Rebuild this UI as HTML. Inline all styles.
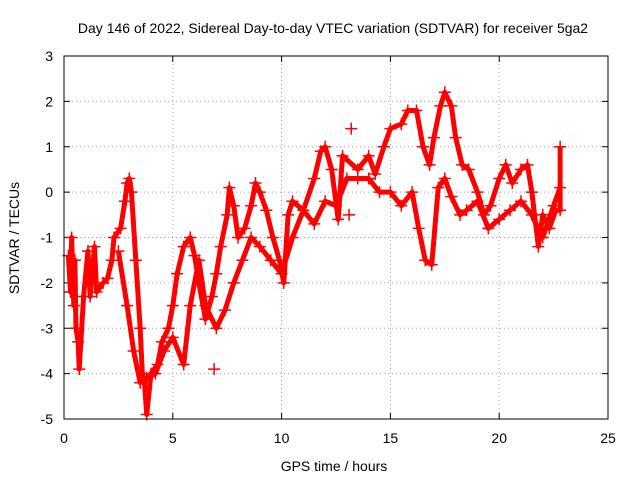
<!DOCTYPE html>
<html><head><meta charset="utf-8"><style>
body{margin:0;background:#fff;}
svg text{font-family:"Liberation Sans",sans-serif;fill:#000;}
</style></head><body>
<svg id="chart" width="640" height="480" viewBox="0 0 640 480">
<text x="333" y="33" font-size="14" text-anchor="middle">Day 146 of 2022, Sidereal Day-to-day VTEC variation (SDTVAR) for receiver 5ga2</text>
<text x="334" y="471" font-size="14" text-anchor="middle">GPS time / hours</text>
<text x="19" y="238" font-size="14" text-anchor="middle" transform="rotate(-90 19 238)">SDTVAR / TECUs</text>
<g id="grid"></g>
<g id="axes"></g>
<g id="marks"></g>
<rect x="64" y="56" width="544" height="363" fill="none" stroke="#000"/>
</svg>
<script>
const xTicks=[0,5,10,15,20,25];
const yTicks=[3,2,1,0,-1,-2,-3,-4,-5];
const traceA=[[0.2,-1.4],[0.3,-2.2],[0.35,-1.0],[0.45,-2.5],[0.5,-1.5],[0.55,-3.0],[0.65,-3.3],[0.7,-3.9],[0.9,-2.3],[1.1,-1.3],[1.2,-2.3],[1.4,-1.2],[1.5,-2.2],[1.8,-2.0],[2.0,-1.9],[2.2,-1.5],[2.3,-1.0],[2.6,-0.8],[2.8,-0.2],[2.9,0.2],[3.0,0.3],[3.1,0.0],[3.3,-1.5],[3.5,-3.0],[3.6,-4.0],[3.7,-4.2],[3.8,-4.9],[4.0,-4.0],[4.3,-3.8],[4.5,-3.3],[4.8,-3.0],[5.0,-2.5],[5.2,-1.8],[5.5,-1.2],[5.8,-1.0],[6.0,-1.4],[6.2,-2.0],[6.5,-2.8],[6.8,-2.3],[7.0,-1.8],[7.2,-1.2],[7.5,-0.5],[7.6,0.1],[7.8,-0.3],[8.0,-1.0],[8.3,-0.8],[8.6,-0.3],[8.8,0.2],[9.0,0.0],[9.3,-0.4],[9.6,-1.0],[9.9,-1.5],[10.1,-2.0],[10.3,-0.5],[10.5,-0.2],[11.0,-0.4],[11.5,0.3],[11.8,0.9],[12.0,1.0],[12.3,0.5],[12.6,-0.6],[12.8,0.8],[13.5,0.5],[14.0,0.8],[14.3,0.4],[14.7,1.0],[15.0,1.4],[15.5,1.5],[15.8,1.8],[16.2,1.8],[16.5,1.0],[16.8,0.6],[17.0,1.2],[17.3,1.9],[17.5,2.2],[17.8,1.9],[18.0,1.2],[18.3,0.6],[18.6,0.5],[19.0,0.0],[19.3,-0.5],[19.6,-0.3],[20.0,0.3],[20.3,0.6],[20.6,0.2],[21.0,0.5],[21.3,0.6],[21.5,0.0],[21.8,-1.2],[22.0,-0.5],[22.3,-0.8],[22.6,-0.4],[22.8,-0.4],[22.8,1.0]];
const traceB=[[2.5,-1.3],[2.9,-2.5],[3.2,-3.5],[3.5,-4.2],[3.8,-4.1],[4.2,-4.0],[4.6,-3.5],[5.0,-3.2],[5.5,-3.8],[5.8,-2.5],[6.2,-1.5],[6.5,-2.5],[7.0,-3.0],[7.4,-2.6],[7.8,-2.0],[8.2,-1.5],[8.6,-1.0],[9.0,-1.2],[9.5,-1.5],[10.0,-1.8],[10.5,-1.0],[11.0,-0.4],[11.5,-0.7],[12.0,-0.2],[12.5,-0.3],[13.0,0.3],[13.5,0.3],[14.0,0.3],[14.5,0.0],[15.0,0.0],[15.5,-0.3],[16.0,0.0],[16.3,-0.8],[16.6,-1.5],[16.9,-1.6],[17.2,0.1],[17.5,0.3],[17.8,-0.1],[18.2,-0.5],[18.5,-0.4],[19.0,-0.2],[19.5,-0.8],[20.0,-0.6],[20.5,-0.4],[21.0,-0.2],[21.5,-0.5],[22.0,-1.0],[22.5,-0.3],[22.8,0.1]];
const isolated=[[13.2,1.4],[6.9,-3.9],[13.1,-0.5]];
const NS='http://www.w3.org/2000/svg';
const X=t=>64+t*(544/25), Y=v=>56+(3-v)*(363/8);
const grid=document.getElementById('grid'),axes=document.getElementById('axes'),marks=document.getElementById('marks');
function mk(tag,attrs,parent){const e=document.createElementNS(NS,tag);for(const k in attrs)e.setAttribute(k,attrs[k]);parent.appendChild(e);return e;}
xTicks.forEach(t=>{const x=X(t);
 if(t>0&&t<25){const g=mk('line',{x1:x,x2:x,y1:56,y2:419,stroke:'#a0a0a0','stroke-dasharray':'1,3'},grid);
 
 }
 mk('line',{x1:x,x2:x,y1:419,y2:413,stroke:'#000'},axes);mk('line',{x1:x,x2:x,y1:56,y2:62,stroke:'#000'},axes);
 const l=mk('text',{x:x,y:443,'font-size':14,'text-anchor':'middle'},axes);l.textContent=t;
 
 });
yTicks.forEach(v=>{const y=Y(v);
 if(v<3&&v>-5){const g=mk('line',{x1:64,x2:608,y1:y,y2:y,stroke:'#a0a0a0','stroke-dasharray':'1,3'},grid);
 
 }
 mk('line',{x1:64,x2:70,y1:y,y2:y,stroke:'#000'},axes);mk('line',{x1:608,x2:602,y1:y,y2:y,stroke:'#000'},axes);
 const l=mk('text',{x:53,y:y+5,'font-size':14,'text-anchor':'end'},axes);l.textContent=v;
 
 });
[traceA,traceB].forEach((tr,i)=>{
 const p=mk('polyline',{points:tr.map(d=>X(d[0])+','+Y(d[1])).join(' '),fill:'none',stroke:'#f00','stroke-width':5,'stroke-linejoin':'round'},marks);
 
 });
[...traceA,...traceB,...isolated].forEach(d=>{const x=X(d[0]),y=Y(d[1]);
 const m=mk('path',{d:`M${x-6},${y}H${x+6}M${x},${y-6}V${y+6}`,stroke:'#f00','stroke-width':1.5},marks);
 
 });
</script>
</body></html>
